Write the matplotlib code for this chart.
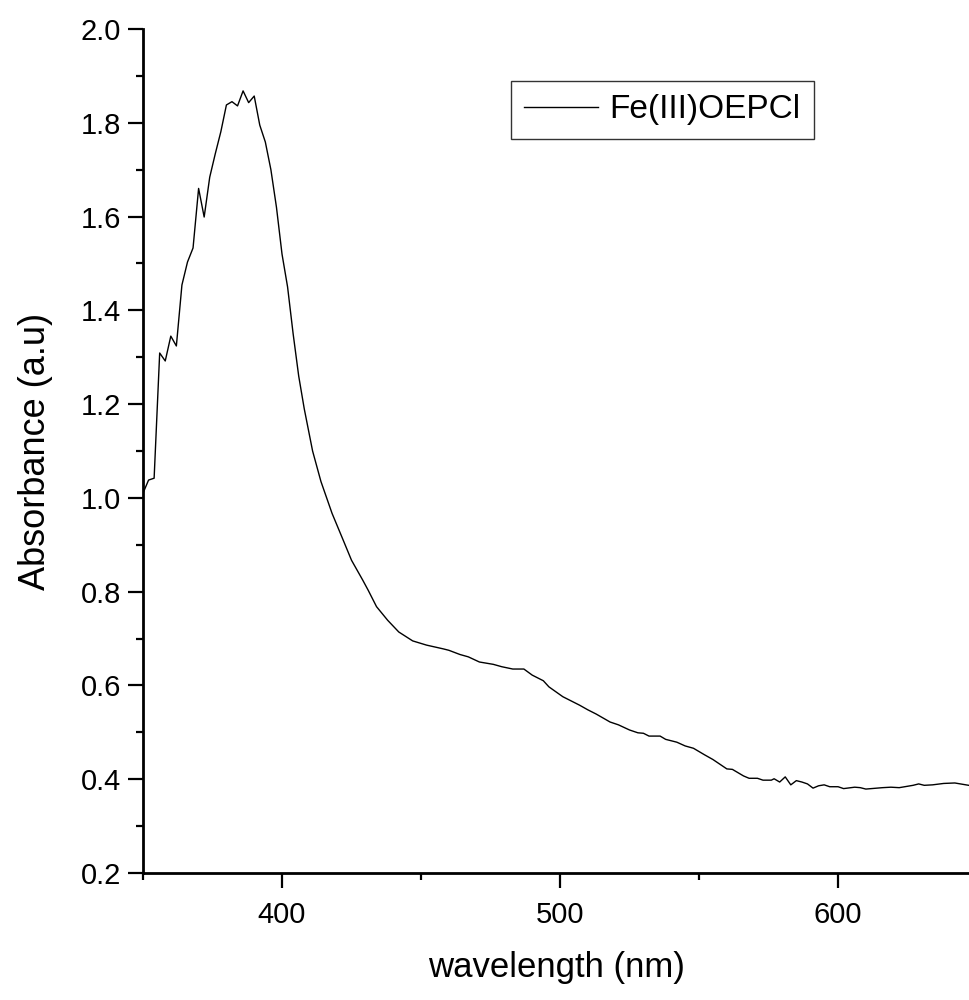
import matplotlib
matplotlib.use("Agg")
import matplotlib.pyplot as plt
from matplotlib.ticker import MultipleLocator


# UV-vis spectrum values
wavelength = [350, 352, 354, 356, 358, 360, 362, 364, 366, 368, 370, 372, 374,
              376, 378, 380, 382, 384, 386, 388, 390, 392, 394, 396, 398, 400,
              402, 404, 406, 408, 411, 414, 418, 422, 425, 429, 431, 434, 438,
              442, 447, 452, 458, 460, 464, 467, 471, 476, 479, 483, 487, 490,
              494, 496, 501, 507, 510, 513, 518, 521, 525, 528, 530, 532, 536,
              538, 542, 545, 548, 552, 555, 557, 560, 562, 566, 568, 571, 573,
              576, 577, 579, 581, 583, 585, 587, 589, 591, 593, 595, 597, 600,
              602, 606, 608, 610, 612, 616, 619, 622, 625, 627, 629, 631, 634,
              638, 642, 644, 647]
absorbance = [1.01, 1.038, 1.042, 1.309, 1.292, 1.345, 1.324, 1.454, 1.503,
              1.533, 1.660, 1.599, 1.684, 1.734, 1.781, 1.838, 1.845, 1.836,
              1.868, 1.843, 1.857, 1.795, 1.759, 1.70, 1.62, 1.52, 1.45, 1.35,
              1.26, 1.19, 1.10, 1.035, 0.967, 0.910, 0.867, 0.825, 0.803,
              0.768, 0.739, 0.714, 0.695, 0.686, 0.678, 0.675, 0.666, 0.661,
              0.650, 0.645, 0.640, 0.635, 0.635, 0.622, 0.610, 0.597, 0.576,
              0.558, 0.548, 0.539, 0.522, 0.516, 0.505, 0.499, 0.498, 0.492,
              0.492, 0.485, 0.479, 0.471, 0.466, 0.452, 0.442, 0.434, 0.422,
              0.421, 0.407, 0.402, 0.402, 0.398, 0.398, 0.401, 0.394, 0.405,
              0.388, 0.397, 0.394, 0.390, 0.381, 0.386, 0.388, 0.384, 0.384,
              0.380, 0.383, 0.382, 0.379, 0.380, 0.382, 0.383, 0.382, 0.385,
              0.387, 0.390, 0.387, 0.388, 0.391, 0.392, 0.390, 0.387]
series_name = "Fe(III)OEPCl"

plt.rcParams['font.family'] = ['Liberation Sans', 'DejaVu Sans']

fig = plt.figure(figsize=(9.69, 10), dpi=100)
ax = fig.add_axes([143 / 969, 127 / 1000, 1 - 143 / 969, 844 / 1000])

ax.plot(wavelength, absorbance, color='black', linewidth=1.0, label=series_name)

ax.set_xlim(350, 647.1)
ax.set_ylim(0.2, 2.0)
ax.xaxis.set_major_locator(MultipleLocator(100))
ax.xaxis.set_minor_locator(MultipleLocator(50))
ax.yaxis.set_major_locator(MultipleLocator(0.2))
ax.yaxis.set_minor_locator(MultipleLocator(0.1))
ax.yaxis.set_major_formatter(plt.FormatStrFormatter('%.1f'))

ax.spines['top'].set_visible(False)
ax.spines['right'].set_visible(False)
for side in ['left', 'bottom']:
    ax.spines[side].set_linewidth(2.0)

ax.tick_params(which='major', direction='out', length=11, width=1.6,
               labelsize=21, pad=5)
ax.tick_params(which='minor', direction='out', length=5, width=1.6)
ax.tick_params(axis='x', which='major', pad=9)

ax.set_xlabel('wavelength (nm)', fontsize=25, labelpad=16)
ax.set_ylabel('Absorbance (a.u)', fontsize=26, labelpad=20)

leg = ax.legend(loc='upper left', bbox_to_anchor=(511 / 969, 1 - 81 / 1000),
                bbox_transform=fig.transFigure, fontsize=24, frameon=True,
                fancybox=False, handlelength=2.2, handletextpad=0.35,
                borderpad=0.4, borderaxespad=0)
leg.get_frame().set_edgecolor('black')
leg.get_frame().set_linewidth(1.0)

fig.savefig('out.png', dpi=100)
